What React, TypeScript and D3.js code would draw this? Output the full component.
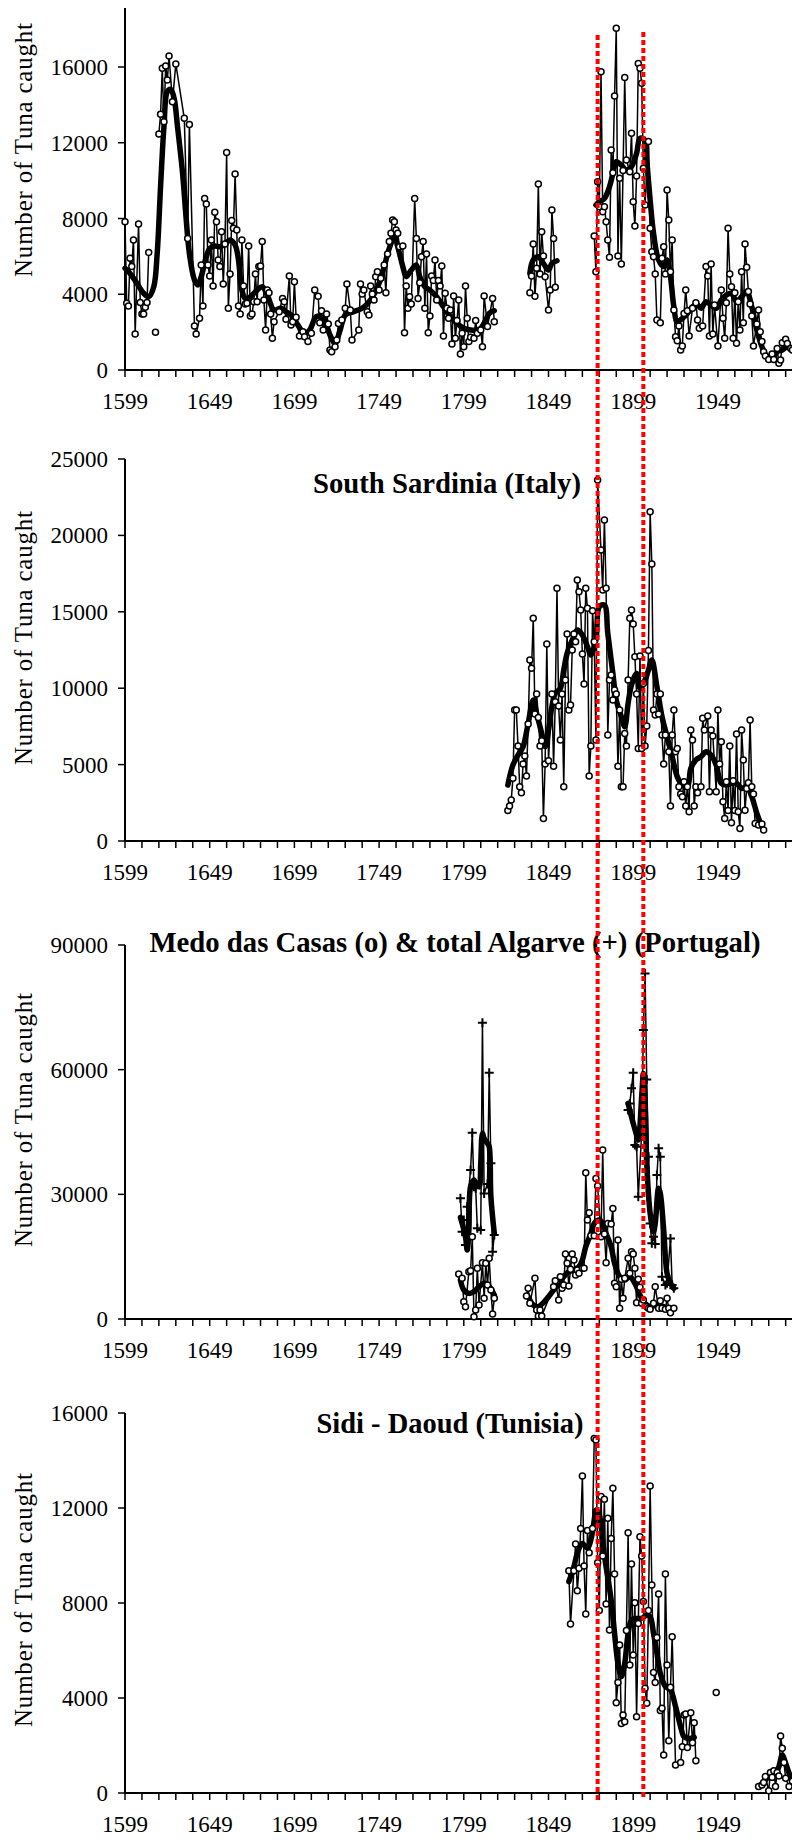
import React from 'react';
import * as d3 from 'd3';

type Pt = [number, number | null];

// ---------- axis definitions ----------
const tickYears = d3.range(1599, 2010, 10);
const labelYears = [1599, 1649, 1699, 1749, 1799, 1849, 1899, 1949];
const redLineYears = [1878, 1905];
const yAxisTitle = 'Number of Tuna caught';
const ticksP1 = [0, 4000, 8000, 12000, 16000];
const ticksP2 = [0, 5000, 10000, 15000, 20000, 25000];
const ticksP3 = [0, 30000, 60000, 90000];
const ticksP4 = [0, 4000, 8000, 12000, 16000];
const titleP2 = 'South Sardinia (Italy)';
const titleP3 = 'Medo das Casas (o) & total Algarve (+) (Portugal)';
const titleP4 = 'Sidi - Daoud (Tunisia)';

// ---------- panel 1 (top) ----------
const topCatch: Pt[] = [
  [1599,7830],[1600,3520],[1601,3380],[1602,5900],[1603,5460],[1604,6860],[1605,1900],[1607,7710],[1608,3560],[1609,2960],[1610,2960],[1611,3310],[1612,3560],[1613,6210],[1614,null],
  [1617,1990],[1618,null],
  [1619,12460],[1620,13500],[1621,15930],[1622,13110],[1623,16050],[1624,15310],[1625,16580],[1627,14170],[1629,16160],[1634,13290],[1636,6950],[1637,12970],[1640,2320],[1641,1900],[1643,2730],[1644,5540],[1645,3380],[1646,9060],[1647,8770],[1648,5540],[1649,4960],[1650,6860],[1651,4440],[1652,8330],[1653,7830],[1654,5810],[1655,5460],[1656,7300],[1657,4540],[1658,6650],[1659,11490],[1660,3260],[1661,5070],[1662,7890],[1663,7480],[1664,10350],[1665,7390],[1666,3380],[1667,2960],[1668,6860],[1669,4440],[1670,3480],[1671,3520],[1672,6550],[1673,2850],[1674,2960],[1675,3610],[1676,5070],[1677,3610],[1678,5460],[1679,5490],[1680,6780],[1681,3700],[1682,2110],[1683,4220],[1684,4080],[1685,2960],[1686,1670],[1687,2550],[1690,3080],[1692,3780],[1693,3610],[1694,2680],[1696,4960],[1697,2380],[1698,2550],[1699,4660],[1700,2780],[1702,1800],[1704,2020],[1705,1760],[1707,1500],[1709,1940],[1711,4220],[1713,3900],[1714,2500],[1715,3130],[1716,2110],[1718,2960],[1719,2430],[1720,1060],[1721,970],[1723,1230],[1724,1580],[1725,2460],[1727,2640],[1729,3260],[1730,4540],[1732,3170],[1733,1580],[1737,2110],[1738,4540],[1739,4010],[1740,4220],[1742,3080],[1743,2900],[1744,4440],[1745,4010],[1746,3700],[1747,4930],[1748,5190],[1749,4220],[1750,4840],[1752,5540],[1753,4080],[1754,6130],[1755,6780],[1756,7220],[1757,7920],[1758,7830],[1759,7390],[1760,7220],[1761,6510],[1763,6550],[1764,1970],[1765,4440],[1766,3260],[1767,3870],[1768,3480],[1770,9060],[1771,6950],[1772,3780],[1773,4610],[1774,5980],[1775,6780],[1776,3260],[1777,6130],[1778,1970],[1779,2850],[1780,4960],[1781,4720],[1782,5810],[1783,3700],[1784,4720],[1785,4440],[1786,5490],[1787,1800],[1788,4050],[1789,3260],[1790,2730],[1791,3170],[1792,1370],[1793,3910],[1794,1670],[1795,2610],[1796,3700],[1797,850],[1798,1940],[1799,1230],[1800,4440],[1801,2730],[1802,1500],[1803,1730],[1805,1670],[1806,2610],[1807,1940],[1809,2110],[1810,1230],[1811,3910],[1813,2300],[1816,3780],[1817,2550],[1818,null],
  [1838,4080],[1839,4960],[1840,6650],[1841,3900],[1842,5370],[1843,9820],[1844,5070],[1845,7300],[1846,6020],[1847,4930],[1849,3170],[1850,4220],[1851,8450],[1852,6950],[1853,4370],[1854,null],
  [1876,7080],[1877,5190],[1878,9940],[1879,8620],[1880,15750],[1881,8360],[1882,8620],[1883,7830],[1884,6860],[1885,5950],[1886,11620],[1887,10420],[1888,14470],[1889,18040],[1890,6020],[1891,10120],[1892,5600],[1893,10530],[1894,15450],[1895,11090],[1897,10470],[1898,12500],[1899,8890],[1900,7600],[1901,10240],[1902,16190],[1903,15930],[1904,15140],[1905,10650],[1906,8710],[1908,12060],[1909,7480],[1910,6250],[1911,5980],[1912,5070],[1913,2640],[1915,2500],[1916,5900],[1917,6510],[1918,5070],[1919,9500],[1920,7920],[1921,5190],[1922,6860],[1923,3170],[1924,1760],[1925,1550],[1926,2320],[1927,1060],[1928,1270],[1929,2990],[1930,4220],[1931,3130],[1932,1800],[1934,3260],[1936,3555],[1937,2640],[1938,2200],[1940,2320],[1942,5460],[1943,4960],[1944,1800],[1945,5600],[1946,1900],[1947,3430],[1949,1270],[1951,4220],[1952,2730],[1953,1670],[1954,3555],[1955,7480],[1956,5070],[1957,4400],[1958,1670],[1959,4080],[1960,1410],[1961,3610],[1962,2110],[1963,5190],[1964,2500],[1965,6650],[1966,5420],[1967,4140],[1968,3490],[1969,2850],[1970,1270],[1972,2430],[1973,3170],[1974,2020],[1975,1500],[1976,970],[1977,740],[1979,560],[1981,845],[1982,560],[1984,1140],[1985,350],[1986,530],[1987,1440],[1989,1620],[1990,1400],[1992,1140],[1993,1060],[1995,1200],[1997,1400]
];
const topSmooth: Pt[] = [
  [1599,5370],[1602,5100],[1606,4580],[1610,4050],[1613,3870],[1616,4400],[1618,6160],[1620,9680],[1622,12850],[1624,14700],[1626,14820],[1628,14340],[1630,12850],[1633,10380],[1635,8100],[1637,6160],[1640,4750],[1642,4490],[1644,4930],[1647,5980],[1649,6420],[1652,6550],[1655,6510],[1658,6650],[1661,6860],[1664,6600],[1666,5810],[1668,4220],[1670,3780],[1673,3870],[1677,4220],[1680,4400],[1683,3960],[1687,3170],[1691,3260],[1694,3080],[1698,2820],[1701,2380],[1705,1940],[1708,2110],[1712,2820],[1716,2730],[1720,1850],[1723,1410],[1726,2110],[1729,2900],[1734,3080],[1739,3260],[1744,3700],[1749,4580],[1752,5460],[1755,6420],[1758,7040],[1760,6510],[1763,5460],[1765,4930],[1768,5280],[1771,5540],[1773,4930],[1776,4400],[1779,4220],[1783,3870],[1787,3340],[1791,2820],[1795,2460],[1799,2200],[1803,2110],[1807,2110],[1809,2200],[1812,2640],[1814,2990],[1817,3130],[1818,null],
  [1838,5100],[1840,5810],[1843,5980],[1846,5630],[1849,5280],[1851,5630],[1854,5770],[1855,null],
  [1877,8710],[1879,8890],[1882,9060],[1885,9680],[1887,10380],[1889,11000],[1892,10820],[1895,10560],[1898,10740],[1901,11440],[1903,12230],[1906,12140],[1907,11090],[1909,8980],[1911,7220],[1914,5810],[1917,5460],[1919,5810],[1921,4930],[1923,3340],[1925,2550],[1928,2730],[1931,2990],[1934,3340],[1937,3430],[1939,3260],[1942,3610],[1945,3430],[1948,3260],[1951,3700],[1954,3960],[1957,4050],[1960,3610],[1963,3870],[1966,4140],[1969,3340],[1972,2110],[1975,1230],[1978,700],[1981,620],[1984,970],[1987,1060],[1990,1230],[1993,1140],[1996,1300]
];

// ---------- panel 2: South Sardinia ----------
const sardinia: Pt[] = [
  [1825,2000],[1826,2290],[1827,2680],[1828,4100],[1829,8570],[1830,8570],[1831,6210],[1832,3550],[1833,3160],[1834,5040],[1835,5560],[1836,4250],[1837,7650],[1838,11840],[1839,11300],[1840,14570],[1841,8310],[1842,9620],[1843,8090],[1844,6210],[1845,6560],[1846,1480],[1847,5040],[1848,12890],[1849,5250],[1851,9620],[1852,4900],[1853,9120],[1854,16540],[1855,8830],[1856,6610],[1857,9620],[1858,3550],[1859,10540],[1860,13550],[1861,8570],[1862,8900],[1863,12500],[1864,13550],[1865,13040],[1866,17080],[1867,16320],[1868,15120],[1869,12240],[1870,10270],[1871,16540],[1872,15230],[1873,4250],[1874,6210],[1875,15070],[1876,13040],[1877,6610],[1878,23630],[1880,19050],[1881,16430],[1882,21010],[1883,16540],[1884,6930],[1885,10540],[1886,10860],[1887,9230],[1888,9880],[1889,9620],[1890,4900],[1891,8570],[1892,3550],[1893,3550],[1894,7040],[1895,6210],[1896,10540],[1897,14570],[1898,15120],[1899,14200],[1900,12060],[1901,9620],[1902,6060],[1903,12100],[1904,6060],[1905,10300],[1906,6210],[1907,7520],[1908,12460],[1909,21550],[1910,18130],[1911,8570],[1912,8240],[1913,9620],[1914,8310],[1915,9620],[1916,6930],[1917,5040],[1918,6930],[1920,5840],[1921,2290],[1922,6930],[1923,8570],[1924,5840],[1925,6060],[1926,3550],[1927,3070],[1928,2900],[1929,3880],[1930,2290],[1931,3550],[1932,1920],[1933,7260],[1934,6610],[1935,2290],[1936,3550],[1937,3160],[1939,3550],[1940,8030],[1941,7260],[1943,8180],[1944,3230],[1945,7260],[1946,6870],[1948,3230],[1949,8570],[1950,5040],[1951,6500],[1952,2570],[1953,1480],[1954,3880],[1955,2000],[1956,6210],[1957,1200],[1958,3950],[1959,2000],[1960,7000],[1961,1920],[1962,825],[1963,7260],[1964,5300],[1965,2020],[1966,3440],[1967,3810],[1968,7920],[1969,3550],[1970,3070],[1971,1150],[1973,1040],[1975,1110],[1976,720]
];
const sardiniaSmooth: Pt[] = [
  [1825,3660],[1828,4970],[1831,5620],[1834,6170],[1837,7700],[1840,9230],[1842,8350],[1845,7040],[1847,6170],[1849,7260],[1851,8790],[1853,9660],[1856,9990],[1858,11190],[1860,12280],[1863,13150],[1866,13810],[1869,13480],[1872,12720],[1874,12170],[1877,13150],[1879,15330],[1882,15440],[1884,13590],[1887,10970],[1889,9230],[1892,8140],[1894,7480],[1896,9010],[1898,10210],[1901,10970],[1903,9990],[1906,10540],[1908,11190],[1910,11840],[1913,10100],[1916,8140],[1919,6830],[1922,5520],[1925,4210],[1928,3660],[1931,3550],[1933,4750],[1936,5300],[1939,5520],[1942,5840],[1945,5620],[1948,4970],[1951,3770],[1954,3660],[1957,3770],[1960,3770],[1963,3440],[1966,3550],[1969,2900],[1972,1810],[1975,930]
];

// ---------- panel 3: Portugal ----------
const algarve: Pt[] = [
  [1797,29030],[1798,21010],[1799,23820],[1800,17800],[1801,27030],[1803,35850],[1804,44830],[1805,31840],[1806,31440],[1807,21810],[1809,21410],[1810,71290],[1811,30230],[1813,32480],[1814,59260],[1815,37450],[1816,16200],[1817,20210],[1818,null],
  [1896,50280],[1897,51880],[1898,55500],[1899,59260],[1900,41860],[1901,41460],[1902,29430],[1904,44670],[1905,69530],[1906,83160],[1907,57660],[1908,39060],[1909,23010],[1910,18200],[1911,19810],[1912,18040],[1913,34640],[1914,41060],[1915,39060],[1916,10180],[1918,8180],[1919,8580],[1921,19400],[1922,8180],[1923,7380]
];
const algarveSmooth: Pt[] = [
  [1797,24460],[1798,23010],[1800,19810],[1801,16600],[1802,21410],[1803,31840],[1805,33440],[1806,32640],[1808,31840],[1809,37450],[1810,44670],[1811,43470],[1813,42260],[1814,41460],[1815,29430],[1817,20610],[1818,null],
  [1896,51880],[1897,50280],[1899,47070],[1901,44270],[1902,43060],[1904,53490],[1905,59100],[1906,51880],[1907,37450],[1909,25420],[1911,21010],[1912,23010],[1914,31440],[1915,30230],[1917,21410],[1919,10980],[1921,8580],[1923,7380]
];
const medo: Pt[] = [
  [1796,10820],[1798,9780],[1799,4170],[1800,2970],[1802,11380],[1803,11620],[1804,19810],[1805,560],[1806,2160],[1807,12190],[1808,3370],[1810,13550],[1811,4970],[1812,13390],[1813,8180],[1814,14590],[1815,6970],[1816,1200],[1817,4970],[1818,null],
  [1836,5530],[1837,7380],[1838,3770],[1841,9780],[1842,2160],[1843,720],[1844,2160],[1845,720],[1852,7780],[1853,9220],[1855,4570],[1856,10180],[1857,7380],[1858,8180],[1859,15640],[1860,13390],[1861,7940],[1862,11950],[1863,15640],[1864,14190],[1865,10580],[1866,11790],[1867,10980],[1869,12190],[1870,12190],[1871,35210],[1872,23820],[1873,25580],[1874,20010],[1876,20010],[1877,33840],[1878,31990],[1880,19810],[1881,40660],[1882,20450],[1883,13550],[1884,23010],[1886,22850],[1887,26620],[1888,8580],[1889,7780],[1890,18990],[1891,2570],[1892,9540],[1893,4970],[1894,9780],[1896,14590],[1897,10980],[1898,16200],[1899,15640],[1900,12190],[1901,3930],[1902,9540],[1903,7620],[1904,3770],[1905,4570],[1907,2970],[1908,2570],[1909,2330],[1911,3770],[1912,7780],[1914,2570],[1915,4410],[1916,2570],[1918,2330],[1919,4970],[1920,2570],[1921,1520],[1923,2570]
];
const medoSmooth: Pt[] = [
  [1797,9380],[1799,6970],[1802,6170],[1805,6570],[1808,7780],[1811,8580],[1814,7780],[1817,5770],[1818,null],
  [1837,5370],[1840,3370],[1843,2970],[1846,3930],[1849,5370],[1852,6970],[1855,8580],[1858,10180],[1861,11380],[1864,11790],[1867,12590],[1869,14190],[1871,17400],[1874,20610],[1876,23010],[1879,23820],[1881,23010],[1883,20610],[1886,17400],[1888,13390],[1891,10180],[1894,9380],[1897,10180],[1900,8580],[1903,5770],[1906,3770],[1909,2970],[1913,3370],[1917,2970],[1921,2570],[1923,2570]
];

// ---------- panel 4: Sidi - Daoud ----------
const sidiDaoud: Pt[] = [
  [1861,9360],[1862,7120],[1864,9360],[1865,10480],[1866,8520],[1867,9460],[1868,11140],[1869,13350],[1870,9560],[1871,7540],[1872,11050],[1873,10120],[1875,11140],[1876,14930],[1877,14860],[1878,9700],[1879,7680],[1880,12480],[1881,9980],[1882,12370],[1883,7960],[1884,11570],[1885,6860],[1886,10720],[1887,12830],[1888,9220],[1889,3800],[1890,4650],[1891,6230],[1892,2930],[1893,3280],[1894,3000],[1895,6840],[1896,10960],[1897,5390],[1898,9640],[1899,5810],[1900,8010],[1901,3210],[1902,7140],[1903,10790],[1904,9980],[1905,8060],[1906,4410],[1907,3780],[1908,7680],[1909,12930],[1910,8760],[1911,5070],[1912,4650],[1913,6550],[1914,8380],[1915,3470],[1916,3570],[1917,1600],[1918,9220],[1919,5390],[1920,2200],[1921,4450],[1922,6580],[1924,1180],[1927,1280],[1928,1950],[1929,3280],[1930,3330],[1931,1920],[1933,3380],[1934,2120],[1935,2960],[1936,1360],[1937,null],
  [1948,4230],[1949,null],
  [1973,270],[1975,340],[1976,440],[1977,690],[1979,100],[1980,860],[1981,660],[1982,940],[1983,270],[1984,860],[1985,720],[1986,2400],[1987,1880],[1988,1280],[1989,620],[1991,270],[1993,500],[1995,300]
];
const sidiDaoudSmooth: Pt[] = [
  [1861,8900],[1864,9530],[1866,10090],[1869,10510],[1872,10300],[1874,10650],[1876,11490],[1877,11910],[1879,11700],[1881,10510],[1883,9530],[1886,8130],[1888,6720],[1890,5460],[1892,4900],[1894,5460],[1896,6720],[1898,7280],[1901,7350],[1904,7350],[1907,7490],[1909,7420],[1911,6720],[1913,5880],[1915,5040],[1918,4480],[1921,4340],[1924,3640],[1927,2790],[1929,2370],[1932,2300],[1935,2340],[1936,null],
  [1974,270],[1977,540],[1980,760],[1983,830],[1985,1110],[1987,1600],[1989,1250],[1992,690],[1995,500]
];

// ---------- layout ----------
const W = 792;
const H = 1842;
const FONT = "'Liberation Serif', 'Times New Roman', serif";
const xScale = d3.scaleLinear().domain([1599, 2009]).range([125, 125 + 410 * 1.694]);

type Series = { data: Pt[]; smooth: Pt[]; marker: 'circle' | 'plus' };
type Panel = {
  zero: number; topVal: number; topY: number; axisTop: number; ticks: number[];
  title?: string; titleX?: number; titleY?: number; titleLen?: number;
  labelY: number; series: Series[];
};

const panels: Panel[] = [
  { zero: 370, topVal: 16000, topY: 67, axisTop: 8, ticks: ticksP1, labelY: 150,
    series: [{ data: topCatch, smooth: topSmooth, marker: 'circle' }] },
  { zero: 841, topVal: 25000, topY: 459, axisTop: 459, ticks: ticksP2, labelY: 638,
    title: titleP2, titleX: 447, titleY: 493, titleLen: 268,
    series: [{ data: sardinia, smooth: sardiniaSmooth, marker: 'circle' }] },
  { zero: 1319, topVal: 90000, topY: 945, axisTop: 945, ticks: ticksP3, labelY: 1120,
    title: titleP3, titleX: 455, titleY: 952, titleLen: 611,
    series: [
      { data: algarve, smooth: algarveSmooth, marker: 'plus' },
      { data: medo, smooth: medoSmooth, marker: 'circle' },
    ] },
  { zero: 1793, topVal: 16000, topY: 1413, axisTop: 1413, ticks: ticksP4, labelY: 1600,
    title: titleP4, titleX: 450, titleY: 1433, titleLen: 267,
    series: [{ data: sidiDaoud, smooth: sidiDaoudSmooth, marker: 'circle' }] },
];

function PanelView({ p }: { p: Panel }) {
  const y = d3.scaleLinear().domain([0, p.topVal]).range([p.zero, p.topY]);
  const line = d3.line<Pt>()
    .defined(d => d[1] !== null)
    .x(d => xScale(d[0]))
    .y(d => y(d[1] as number));
  const smoothLine = d3.line<Pt>()
    .defined(d => d[1] !== null)
    .x(d => xScale(d[0]))
    .y(d => y(d[1] as number))
    .curve(d3.curveCatmullRom.alpha(0.5));
  const axisRight = 800;
  return (
    <g>
      <text
        transform={`translate(32,${p.labelY}) rotate(-90)`}
        textAnchor="middle"
        fontFamily={FONT}
        fontSize={25}
        textLength={254}
        lengthAdjust="spacing"
        fill="#000"
      >{yAxisTitle}</text>
      {p.title && (
        <text x={p.titleX} y={p.titleY} textAnchor="middle" fontFamily={FONT} fontWeight="bold"
          fontSize={30} textLength={p.titleLen} lengthAdjust="spacingAndGlyphs" fill="#000">{p.title}</text>
      )}
      <line x1={125} x2={125} y1={p.axisTop} y2={p.zero + 1} stroke="#000" strokeWidth={2} />
      <line x1={124} x2={axisRight} y1={p.zero} y2={p.zero} stroke="#000" strokeWidth={2} />
      {p.ticks.map(t => (
        <g key={'yt' + t}>
          <line x1={118} x2={125} y1={y(t)} y2={y(t)} stroke="#000" strokeWidth={1.5} />
          <text x={108} y={y(t)} dy="0.35em" textAnchor="end" fontFamily={FONT} fontSize={23} fill="#000">{t}</text>
        </g>
      ))}
      {tickYears.map(yr => (
        <line key={'xt' + yr} x1={xScale(yr)} x2={xScale(yr)} y1={p.zero} y2={p.zero + 7} stroke="#000" strokeWidth={1.5} />
      ))}
      {labelYears.map(yr => (
        <text key={'xl' + yr} x={xScale(yr)} y={p.zero + 39} textAnchor="middle" fontFamily={FONT} fontSize={23} fill="#000">{yr}</text>
      ))}
      {p.series.map((s, i) => (
        <path key={'dl' + i} d={line(s.data) || ''} fill="none" stroke="#000" strokeWidth={1.5} strokeLinejoin="round" />
      ))}
      {p.series.map((s, i) => (
        <path key={'sl' + i} d={smoothLine(s.smooth) || ''} fill="none" stroke="#000" strokeWidth={5.5} strokeLinejoin="round" strokeLinecap="round" />
      ))}
      {p.series.map((s, i) => (
        <g key={'mk' + i}>
          {s.data.filter(d => d[1] !== null).map((d, j) => {
            const cx = xScale(d[0]);
            const cy = y(d[1] as number);
            return s.marker === 'circle'
              ? <circle key={j} cx={cx} cy={cy} r={3} fill="#fff" stroke="#000" strokeWidth={1.5} />
              : <path key={j} d={`M${cx - 4.5},${cy}H${cx + 4.5}M${cx},${cy - 4.5}V${cy + 4.5}`} stroke="#000" strokeWidth={2} fill="none" />;
          })}
        </g>
      ))}
    </g>
  );
}

export default function App() {
  return (
    <svg width={W} height={H} viewBox={`0 0 ${W} ${H}`}
      style={{ position: 'absolute', left: 0, top: 0, display: 'block', background: '#fff' }}>
      <rect x={0} y={0} width={W} height={H} fill="#fff" />
      {panels.map((p, i) => <PanelView key={i} p={p} />)}
      {redLineYears.map(yr => (
        <line key={'red' + yr} x1={xScale(yr)} x2={xScale(yr)} y1={yr === 1878 ? 35 : 32} y2={1800}
          stroke="#ff0000" strokeWidth={4} strokeDasharray="5 3" />
      ))}
    </svg>
  );
}
